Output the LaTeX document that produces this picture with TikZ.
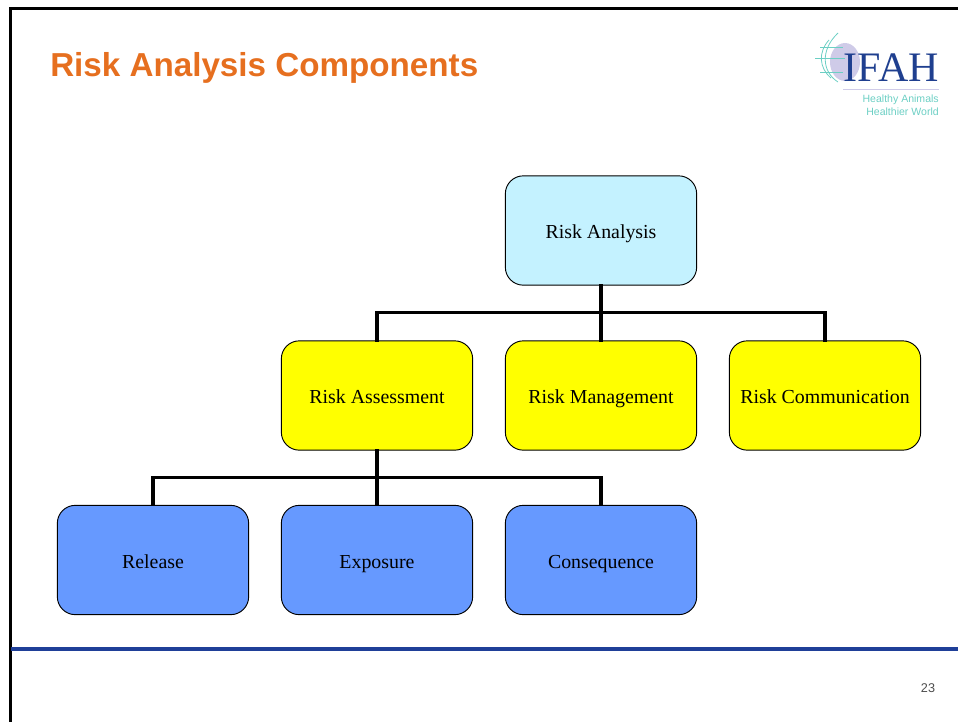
\documentclass[tikz,border=0pt]{standalone}
\usepackage{fontspec}
\setmainfont{Liberation Serif}
\setsansfont{Liberation Sans}
\definecolor{titleorange}{HTML}{E66F1F}
\definecolor{rulenavy}{HTML}{1F3F98}
\definecolor{paleblue}{HTML}{C4F2FF}
\definecolor{midblue}{HTML}{6699FF}
\definecolor{puryellow}{HTML}{FFFF00}
\definecolor{logonavy}{HTML}{1F3F8F}
\definecolor{logoteal}{HTML}{6CCFC4}
\definecolor{logolilac}{HTML}{CFCBE8}
\tikzset{
  riskbox/.style={draw=black, line width=0.7pt, rounded corners=13.5pt, minimum width=143.5pt,
    minimum height=82pt, inner sep=0pt, text height=13.3pt, text depth=0.8pt, font=\fontsize{14.9}{16}\selectfont},
  tree/.style={line width=2.3pt, line cap=rect},
}
\begin{document}
\begin{tikzpicture}[x=0.75pt,y=-0.75pt]
            \useasboundingbox (0,0) rectangle (958,722);
            % slide frame
            \draw[line width=2pt] (10.3,722) -- (10.3,8.5) -- (958,8.5);
            \draw[rulenavy, line width=2.4pt] (11,649) -- (958,649);
            \node[anchor=west, inner sep=0pt, text=titleorange, font=\sffamily\bfseries\fontsize{24.9}{28}\selectfont] (title) at (50,68) {Risk Analysis Components};
            \node[text=black!70, inner sep=0pt, font=\sffamily\fontsize{9.5}{11}\selectfont] (page) at (928,688) {23};
            % logo
            \fill[logolilac] (845,62) ellipse (15 and 19);
            \draw[logoteal, line width=0.6pt] (838,33) .. controls (820,50) and (822,72) .. (838,82);
            \draw[logoteal, line width=0.6pt] (829,40) .. controls (818,52) and (819,68) .. (831,78);
            \draw[logoteal, line width=0.6pt] (815,58) -- (845,58);
            \draw[logoteal, line width=0.6pt] (820,47) -- (843,47);
            \draw[logoteal, line width=0.6pt] (820,72) -- (843,72);
            \node[anchor=east, inner sep=0pt, text=logonavy, font=\fontsize{31.5}{36}\selectfont] (logo) at (939,68) {IFAH};
            \draw[logolilac, line width=0.6pt] (843,89) -- (939,89);
            \node[anchor=north east, align=right, inner sep=0pt, text=logoteal, font=\sffamily\fontsize{7.9}{9.5}\selectfont] (motto) at (939,95) {Healthy Animals\\Healthier World};
            % top level
            \node[riskbox, fill=paleblue] (analysis) at (601,230.5) {Risk Analysis};
            % second level
            \node[riskbox, fill=puryellow] (assessment) at (377,395.5) {Risk Assessment};
            \node[riskbox, fill=puryellow] (management) at (601,395.5) {Risk Management};
            \node[riskbox, fill=puryellow] (communication) at (825,395.5) {Risk Communication};
            % third level
            \node[riskbox, fill=midblue] (release) at (153,560) {Release};
            \node[riskbox, fill=midblue] (exposure) at (377,560) {Exposure};
            \node[riskbox, fill=midblue] (consequence) at (601,560) {Consequence};
            % connectors
            \coordinate (busa) at (601,312.5);
            \coordinate (busb) at (377,477.5);
            \draw[tree] (analysis.south) -- (busa);
            \draw[tree] (assessment.north) |- (busa);
            \draw[tree] (communication.north) |- (busa);
            \draw[tree] (busa) -- (management.north);
            \draw[tree] (assessment.south) -- (busb);
            \draw[tree] (release.north) |- (busb);
            \draw[tree] (consequence.north) |- (busb);
            \draw[tree] (busb) -- (exposure.north);
\end{tikzpicture}
\end{document}
